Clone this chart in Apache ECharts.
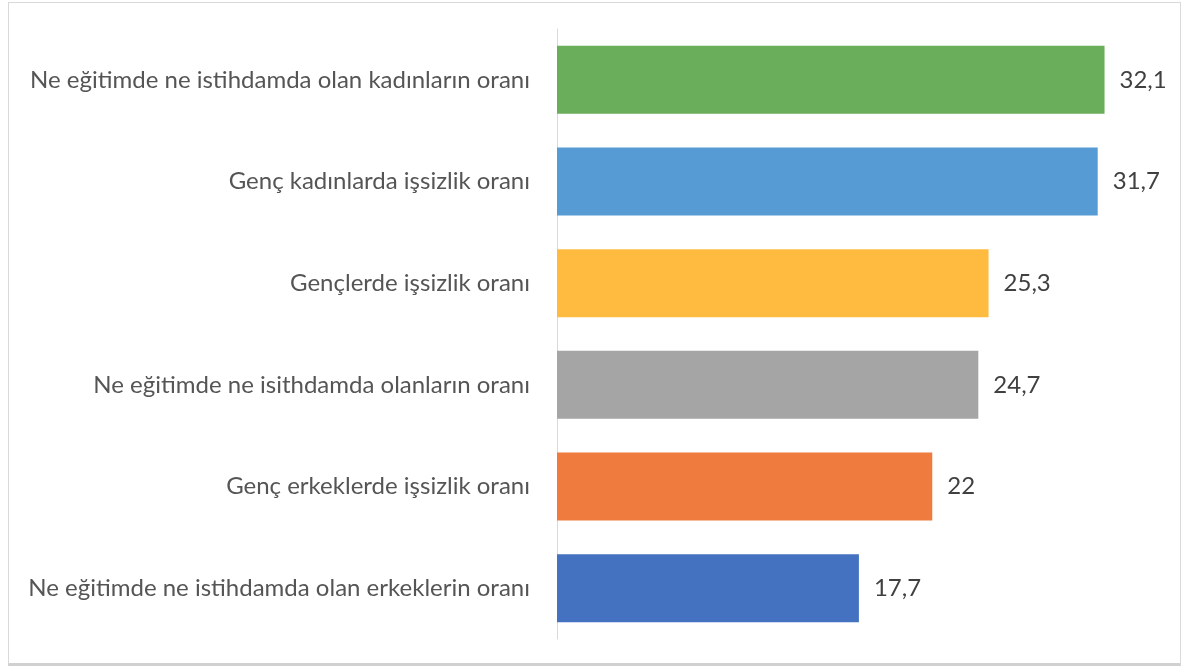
<!DOCTYPE html>
<html>
<head>
<meta charset="utf-8">
<script src="https://cdn.jsdelivr.net/npm/echarts@6/dist/echarts.min.js"></script>
<style>
  html, body { margin: 0; padding: 0; background: #fff; }
  #chart { width: 1181px; height: 668px; }
  .frame {
    position: absolute; left: 8px; top: 2px; width: 1171px; height: 660px;
    border: 1px solid #d9d9d9; border-bottom: 3px solid #d0d0d0; pointer-events: none;
  }
</style>
</head>
<body>
<div id="chart"></div>
<div class="frame"></div>
<script>
// kategoriler (yukarıdan aşağıya)
const categories = [
  'Ne eğitimde ne istihdamda olan kadınların oranı',
  'Genç kadınlarda işsizlik oranı',
  'Gençlerde işsizlik oranı',
  'Ne eğitimde ne isithdamda olanların oranı',
  'Genç erkeklerde işsizlik oranı',
  'Ne eğitimde ne istihdamda olan erkeklerin oranı'
];
const values = [32.1, 31.7, 25.3, 24.7, 22, 17.7];
const colors = ['#6aad5a', '#569bd3', '#ffbb3f', '#a5a5a5', '#ef7b3e', '#4472c1'];

const myChart = echarts.init(document.getElementById('chart'));

const option = {
  animation: false,
  textStyle: { fontFamily: 'Lato' },
  grid: {
    left: 557,
    right: 27,
    top: 29,
    bottom: 29,
  },
  xAxis: {
    type: 'value',
    min: 0,
    max: 35,
    show: false,
  },
  yAxis: {
    type: 'category',
    inverse: true,
    data: categories,
    axisLine: { lineStyle: { color: '#d9d9d9', width: 1 } },
    axisTick: { show: false },
    axisLabel: {
      margin: 27,
      color: '#555555',
      fontSize: 24,
      fontFamily: 'Lato',
    },
  },
  series: [
    {
      type: 'bar',
      barWidth: 68,
      data: values.map((v, i) => ({ value: v, itemStyle: { color: colors[i] } })),
      label: {
        show: true,
        position: 'right',
        distance: 15,
        color: '#404040',
        fontSize: 24,
        fontFamily: 'Lato',
        formatter: (p) => String(p.value).replace('.', ','),
      },
    },
  ],
};
myChart.setOption(option);
</script>
</body>
</html>
